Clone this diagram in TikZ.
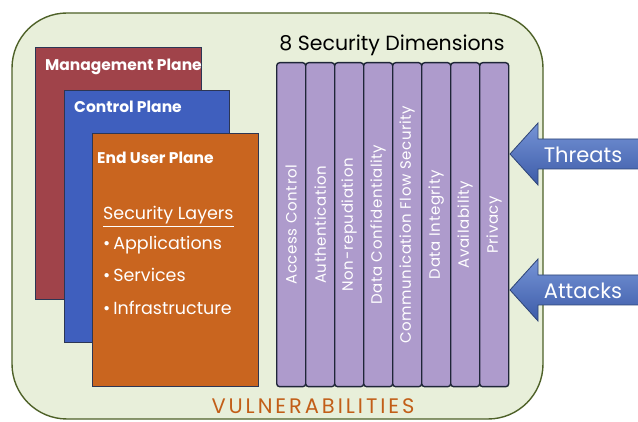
\documentclass[tikz,border=0pt]{standalone}
\usepackage{fontspec}
\setmainfont{Poppins}
\newfontfamily\trackedfont[LetterSpace=14]{Poppins}
\newfontfamily\barfont[LetterSpace=4]{Poppins}
\usetikzlibrary{calc}

\definecolor{panelfill}{HTML}{E8EFDA}
\definecolor{panelrim}{HTML}{4E6128}
\definecolor{mgmt}{HTML}{A0434A}
\definecolor{ctrl}{HTML}{3F5FBE}
\definecolor{enduser}{HTML}{C9651F}
\definecolor{planerim}{HTML}{2C3654}
\definecolor{dimfill}{HTML}{AE9BCC}
\definecolor{dimrim}{HTML}{1F2638}
\definecolor{vuln}{HTML}{C25E18}
\definecolor{arrowtop}{HTML}{7694D6}
\definecolor{arrowbot}{HTML}{3C5BA8}
\definecolor{arrowrim}{HTML}{2E4476}

\tikzset{
  plane/.style={draw=planerim, line width=1.2pt, anchor=north west, inner sep=0pt},
  planetitle/.style={anchor=base west, text=white, font=\bfseries\fontsize{15.5}{18}\selectfont, inner sep=0pt},
  layeritem/.style={anchor=base west, text=white, font=\fontsize{17.5}{20}\selectfont, inner sep=0pt},
  dimbar/.style={draw=dimrim, fill=dimfill, line width=1.4pt, rounded corners=3pt,
    minimum width=29pt, minimum height=324pt, anchor=north west, inner sep=0pt},
  dimlabel/.style={rotate=90, text=white, font=\barfont\fontsize{15}{17}\selectfont, inner sep=0pt},
  blockarrow/.style={draw=arrowrim, line width=0.8pt, top color=arrowtop, bottom color=arrowbot},
  arrowlabel/.style={text=white, font=\fontsize{21}{24}\selectfont, inner sep=0pt},
}

\begin{document}
\begin{tikzpicture}[x=1pt, y=-1pt]
  \useasboundingbox (0,0) rectangle (638,422);
  \clip (0,0) rectangle (638,422);

  % outer panel
  \draw[panelrim, fill=panelfill, line width=1.4pt, rounded corners=55pt]
    (12,13) rectangle (543,419);

  % stacked planes
  \node[plane, fill=mgmt, minimum width=166pt, minimum height=252pt] (mgmt) at (35,47) {};
  \node[planetitle] (mgmttitle) at ($(mgmt.north west)+(10,24)$) {Management Plane};

  \node[plane, fill=ctrl, minimum width=165pt, minimum height=252pt] (ctrl) at (64,90) {};
  \node[planetitle] (ctrltitle) at ($(ctrl.north west)+(10,23)$) {Control Plane};

  \node[plane, fill=enduser, minimum width=166pt, minimum height=253pt] (user) at (92,133) {};
  \node[planetitle] (usertitle) at ($(user.north west)+(5,31)$) {End User Plane};

  \node[layeritem] (layers) at ($(user.north west)+(11,87)$) {\underline{Security Layers}};
  \node[layeritem] (apps) at ($(user.north west)+(11,117)$) {\textbullet\,Applications};
  \node[layeritem] (svcs) at ($(user.north west)+(11,149)$) {\textbullet\,Services};
  \node[layeritem] (infra) at ($(user.north west)+(11,182)$) {\textbullet\,Infrastructure};

  % security dimensions
  \node[font=\fontsize{20.5}{24}\selectfont, inner sep=0pt] (dimtitle) at (392,45) {8 Security Dimensions};
  \foreach \i/\t in {0/Access Control, 1/Authentication, 2/Non-repudiation,
                     3/Data Confidentiality, 4/Communication Flow Security,
                     5/Data Integrity, 6/Availability, 7/Privacy} {
    \node[dimbar] (dim\i) at (276+29*\i,62) {};
    \node[dimlabel] (dimlabel\i) at (dim\i.center) {\t};
  }

  % threats and attacks
  \path[blockarrow] (510,154) -- (538,123) -- (538,139) -- (650,139)
    -- (650,169) -- (538,169) -- (538,185) -- cycle;
  \node[arrowlabel] (threats) at (583,155) {Threats};

  \path[blockarrow] (510,290) -- (538,259) -- (538,275) -- (650,275)
    -- (650,305) -- (538,305) -- (538,321) -- cycle;
  \node[arrowlabel] (attacks) at (583,291) {Attacks};

  % vulnerabilities
  \node[text=vuln, font=\trackedfont\fontsize{21}{24}\selectfont, inner sep=0pt] (vuln) at (313,406) {VULNERABILITIES};
\end{tikzpicture}
\end{document}
